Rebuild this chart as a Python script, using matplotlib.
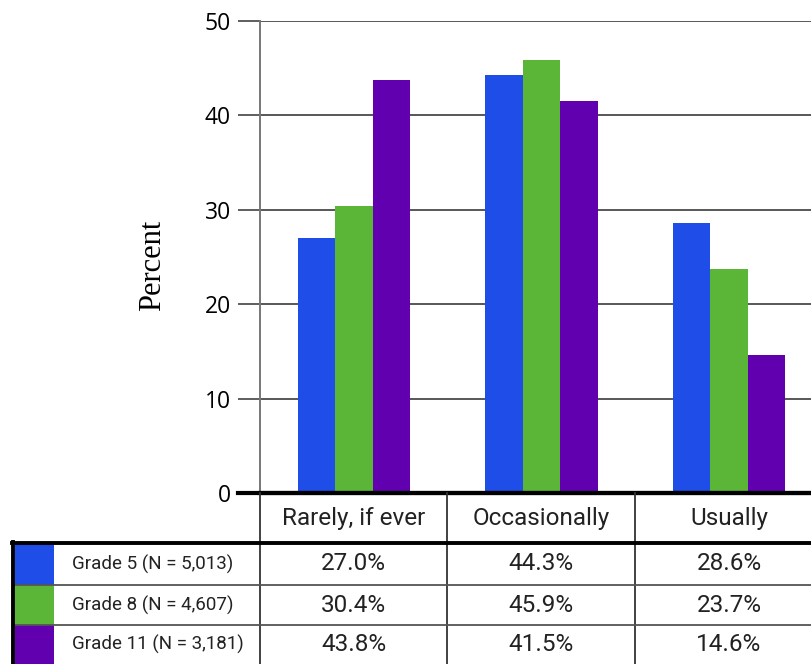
import matplotlib
matplotlib.use('Agg')
from matplotlib import pyplot as plt
from matplotlib.lines import Line2D
from matplotlib.patches import Rectangle
import numpy as np

categories = ['Rarely, if ever', 'Occasionally', 'Usually']
series = ['Grade 5 (N = 5,013)', 'Grade 8 (N = 4,607)', 'Grade 11 (N = 3,181)']
grade5 = [27.0, 44.3, 28.6]
grade8 = [30.4, 45.9, 23.7]
grade11 = [43.8, 41.5, 14.6]
colors = ['#1f4de8', '#5bb537', '#6100ae']

W, H = 811, 664
fig = plt.figure(figsize=(W / 100, H / 100), dpi=100)

def fx(x):
    return x / W

def fy(y):
    return 1 - y / H

# axes spans past the right edge, like the original crop
ax_l, ax_r, ax_t, ax_b = 260, 823, 21, 493
ax = fig.add_axes([fx(ax_l), fy(ax_b), fx(ax_r - ax_l), (ax_b - ax_t) / H])

x = np.arange(len(categories))
width = 0.2
for k, vals in enumerate([grade5, grade8, grade11]):
    ax.bar(x + (k - 1) * width, vals, width, color=colors[k], zorder=3)

ax.set_xlim(-0.5, 2.5)
ax.set_ylim(0, 50)
ax.set_yticks([0, 10, 20, 30, 40, 50])
ax.set_xticks([])
ax.yaxis.grid(True, color='#2a2a2a', linewidth=1.1, zorder=0)
for s in ['top', 'right']:
    ax.spines[s].set_visible(False)
ax.spines['left'].set_color('#777777')
ax.spines['left'].set_linewidth(1.4)
ax.spines['bottom'].set_color('black')
ax.spines['bottom'].set_linewidth(3)
ax.spines['bottom'].set_zorder(4)
ax.tick_params(axis='y', length=16, width=1.1, color='#333333', pad=5,
               labelsize=16.5)
for lab in ax.get_yticklabels():
    lab.set_fontfamily(['Open Sans', 'DejaVu Sans'])
ax.set_ylabel('Percent', family=['Liberation Serif', 'DejaVu Serif'],
              fontsize=22)
ax.yaxis.set_label_coords(-0.165, 0.483)

# thick base line reaching the zero tick
fig.add_artist(Line2D([fx(238), fx(811)], [fy(493), fy(493)], color='black', lw=3))

# table underneath
narrow = ['Roboto', 'DejaVu Sans']
col_edges = [260, 447, 635, 823]
row_edges = [543, 585, 625, 664]
for xe in col_edges[:3]:
    fig.add_artist(Line2D([fx(xe), fx(xe)], [fy(493), fy(664)], color='#333333', lw=1.3))
for ye in row_edges[1:3]:
    fig.add_artist(Line2D([fx(14), fx(811)], [fy(ye), fy(ye)], color='#555555', lw=1.3))
fig.add_artist(Line2D([fx(12), fx(811)], [fy(543), fy(543)], color='black', lw=2.8))
fig.add_artist(Line2D([fx(13), fx(13)], [fy(542), fy(664)], color='black', lw=2.8))

for j, cat in enumerate(categories):
    cx = (col_edges[j] + col_edges[j + 1]) / 2
    fig.text(fx(cx), fy(519), cat, ha='center', va='center', fontsize=17.5,
             family=narrow, color='#222222')

for i, (name, vals) in enumerate(zip(series, [grade5, grade8, grade11])):
    top, bot = row_edges[i], row_edges[i + 1]
    cy = (top + bot) / 2
    fig.add_artist(Rectangle((fx(15), fy(bot)), fx(54 - 15), (bot - top) / H,
                             facecolor=colors[i], edgecolor='none',
                             transform=fig.transFigure))
    fig.text(fx(72), fy(cy), name, ha='left', va='center', fontsize=13.5,
             family=narrow, color='#222222')
    for j, v in enumerate(vals):
        cx = (col_edges[j] + col_edges[j + 1]) / 2
        fig.text(fx(cx), fy(cy), f'{v:.1f}%', ha='center', va='center',
                 fontsize=17.5, family=narrow, color='#222222')

plt.savefig('out.png', dpi=100)
